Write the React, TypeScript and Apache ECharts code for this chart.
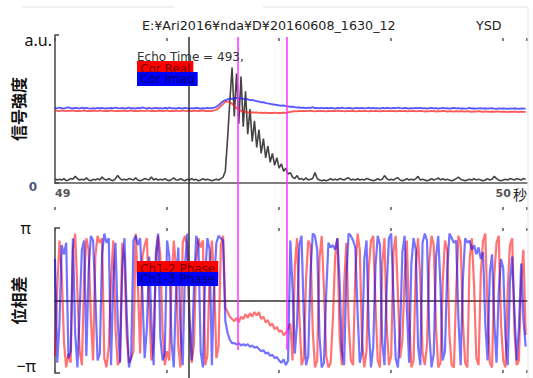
import React, { useEffect, useRef } from "react";
import * as echarts from "echarts";

// ---- axis / time settings ----
const X_MIN = 49;
const X_MAX = 50.053;
const TICK_STEP = 0.25;
const T_START = 49;
const T_STEP = 0.005;

const TITLE = "E:¥Ari2016¥nda¥D¥20160608_1630_12";
const USER = "YSD";
const ECHO_LABEL = "Echo Time = 493,";
const TOP_NAMES = ["Cor Real", "Cor Imag"];
const PHASE_NAMES = ["Ch1-2 Phase", "Ch1-3 Phase"];
const X_TICK_LABELS: Record<string, string> = { "49": "49", "50": "50" };

// cursor (black) and markers (magenta), in seconds
const CURSOR_TIME = 49.299;
const MARKER_TIMES = [49.408, 49.516];
// vertical extent of the cursor overlay (overlay axis units, 0 = bottom of window)
const OVERLAY_MAX = 341;
const MARKER_BOTTOM = 28;

// ---- top panel: signal strength (a.u.) ----
const RED_TOP = [
  0.49, 0.488, 0.486, 0.49, 0.487, 0.485, 0.489, 0.487, 0.49, 0.486,
  0.488, 0.485, 0.487, 0.49, 0.486, 0.488, 0.485, 0.489, 0.487, 0.486,
  0.49, 0.487, 0.485, 0.488, 0.486, 0.49, 0.487, 0.485, 0.488, 0.486,
  0.489, 0.487, 0.485, 0.488, 0.49, 0.486, 0.487, 0.485, 0.489, 0.487,
  0.486, 0.49, 0.487, 0.485, 0.488, 0.486, 0.489, 0.487, 0.485, 0.488,
  0.49, 0.486, 0.487, 0.485, 0.489, 0.487, 0.486, 0.49, 0.487, 0.485,
  0.488, 0.486, 0.489, 0.487, 0.485, 0.488, 0.49, 0.486, 0.487, 0.485,
  0.488, 0.49, 0.495, 0.505, 0.52, 0.535, 0.548, 0.552, 0.545, 0.535,
  0.52, 0.505, 0.495, 0.488, 0.484, 0.48, 0.478, 0.476, 0.478, 0.475,
  0.477, 0.474, 0.476, 0.473, 0.475, 0.472, 0.474, 0.473, 0.475, 0.472,
  0.474, 0.473, 0.476, 0.474, 0.478, 0.48, 0.483, 0.485, 0.484, 0.487,
  0.486, 0.488, 0.485, 0.487, 0.489, 0.486, 0.484, 0.487, 0.485, 0.488,
  0.486, 0.484, 0.487, 0.485, 0.488, 0.486, 0.489, 0.485, 0.487, 0.484,
  0.486, 0.488, 0.485, 0.487, 0.484, 0.486, 0.488, 0.485, 0.487, 0.486,
  0.484, 0.487, 0.485, 0.488, 0.486, 0.484, 0.487, 0.485, 0.486, 0.488,
  0.485, 0.487, 0.484, 0.486, 0.488, 0.485, 0.487, 0.484, 0.486, 0.485,
  0.487, 0.484, 0.486, 0.488, 0.485, 0.483, 0.486, 0.484, 0.487, 0.485,
  0.483, 0.486, 0.484, 0.487, 0.485, 0.483, 0.486, 0.484, 0.482, 0.485,
  0.483, 0.486, 0.484, 0.482, 0.485, 0.483, 0.481, 0.484, 0.482, 0.485,
  0.483, 0.481, 0.484, 0.482, 0.48, 0.483, 0.481, 0.484, 0.482, 0.48,
  0.483, 0.481, 0.479, 0.482, 0.48, 0.483, 0.481, 0.479, 0.482, 0.48, 0.481,
];

const BLUE_TOP = [
  0.508, 0.505, 0.51, 0.506, 0.503, 0.507, 0.512, 0.505, 0.504, 0.508,
  0.506, 0.503, 0.509, 0.505, 0.507, 0.504, 0.502, 0.506, 0.503, 0.508,
  0.505, 0.507, 0.503, 0.506, 0.504, 0.508, 0.505, 0.51, 0.506, 0.504,
  0.507, 0.503, 0.505, 0.509, 0.504, 0.506, 0.503, 0.507, 0.505, 0.511,
  0.506, 0.504, 0.507, 0.503, 0.505, 0.508, 0.504, 0.506, 0.503, 0.507,
  0.505, 0.509, 0.504, 0.506, 0.503, 0.507, 0.505, 0.504, 0.508, 0.505,
  0.503, 0.506, 0.504, 0.507, 0.505, 0.503, 0.506, 0.504, 0.508, 0.505,
  0.506, 0.51, 0.515, 0.525, 0.54, 0.552, 0.56, 0.565, 0.57, 0.568,
  0.572, 0.575, 0.57, 0.574, 0.568, 0.565, 0.566, 0.56, 0.562, 0.556,
  0.553, 0.55, 0.545, 0.547, 0.54, 0.538, 0.535, 0.532, 0.53, 0.527,
  0.525, 0.522, 0.524, 0.52, 0.518, 0.515, 0.516, 0.512, 0.51, 0.511,
  0.508, 0.51, 0.506, 0.509, 0.507, 0.512, 0.506, 0.508, 0.505, 0.507,
  0.504, 0.507, 0.505, 0.508, 0.506, 0.503, 0.507, 0.505, 0.509, 0.506,
  0.504, 0.507, 0.505, 0.503, 0.506, 0.508, 0.505, 0.507, 0.504, 0.506,
  0.509, 0.505, 0.507, 0.504, 0.506, 0.503, 0.507, 0.505, 0.508, 0.506,
  0.504, 0.507, 0.505, 0.51, 0.506, 0.504, 0.507, 0.505, 0.503, 0.506,
  0.504, 0.507, 0.505, 0.508, 0.504, 0.506, 0.503, 0.505, 0.507, 0.504,
  0.506, 0.503, 0.505, 0.508, 0.504, 0.506, 0.503, 0.505, 0.507, 0.504,
  0.506, 0.503, 0.505, 0.502, 0.504, 0.507, 0.503, 0.505, 0.502, 0.504,
  0.506, 0.503, 0.505, 0.502, 0.504, 0.506, 0.503, 0.501, 0.504, 0.502,
  0.505, 0.503, 0.501, 0.504, 0.502, 0.505, 0.503, 0.501, 0.504, 0.502, 0.503,
];

const ECHO_AMP = [
  0.03, 0.02, 0.025, 0.02, 0.03, 0.015, 0.02, 0.03, 0.025, 0.045,
  0.03, 0.02, 0.025, 0.02, 0.035, 0.02, 0.015, 0.025, 0.02, 0.03,
  0.02, 0.04, 0.025, 0.02, 0.03, 0.02, 0.015, 0.03, 0.05, 0.03,
  0.02, 0.025, 0.02, 0.03, 0.025, 0.02, 0.035, 0.02, 0.015, 0.02,
  0.03, 0.025, 0.02, 0.04, 0.02, 0.03, 0.02, 0.025, 0.02, 0.03,
  0.02, 0.015, 0.025, 0.035, 0.02, 0.02, 0.03, 0.02, 0.015, 0.025,
  0.02, 0.03, 0.02, 0.025, 0.015, 0.02, 0.03, 0.02, 0.025, 0.02,
  0.015, 0.02, 0.025, 0.02, 0.03, 0.04, 0.08, 0.3, 0.55, 0.78,
  0.45, 0.74, 0.4, 0.72, 0.38, 0.62, 0.33, 0.5, 0.28, 0.42,
  0.24, 0.36, 0.2, 0.3, 0.17, 0.25, 0.14, 0.2, 0.12, 0.17,
  0.1, 0.13, 0.08, 0.1, 0.06, 0.07, 0.04, 0.03, 0.05, 0.025,
  0.03, 0.02, 0.035, 0.02, 0.025, 0.03, 0.07, 0.03, 0.02, 0.015,
  0.02, 0.015, 0.02, 0.03, 0.02, 0.025, 0.02, 0.03, 0.025, 0.02,
  0.03, 0.035, 0.02, 0.025, 0.02, 0.03, 0.02, 0.025, 0.02, 0.03,
  0.025, 0.02, 0.015, 0.02, 0.03, 0.02, 0.025, 0.05, 0.03, 0.02,
  0.025, 0.02, 0.03, 0.035, 0.02, 0.015, 0.02, 0.03, 0.02, 0.025,
  0.02, 0.03, 0.045, 0.02, 0.025, 0.02, 0.015, 0.02, 0.03, 0.02,
  0.025, 0.035, 0.02, 0.03, 0.02, 0.025, 0.02, 0.015, 0.02, 0.03,
  0.04, 0.025, 0.02, 0.015, 0.02, 0.025, 0.02, 0.03, 0.02, 0.025,
  0.02, 0.015, 0.02, 0.03, 0.02, 0.025, 0.045, 0.03, 0.02, 0.015,
  0.02, 0.025, 0.02, 0.03, 0.025, 0.02, 0.03, 0.025, 0.02, 0.03, 0.025,
];

// ---- bottom panel: phase difference (rad) ----
const RED_PHASE = [
  -2.4, 0.5, 2.6, 1.2, -1.8, -2.9, -2.3, -2.7, 2.2, 2.9,
  0.4, -2.2, -2.8, 1.0, 2.7, 2.2, -0.8, -2.6, 1.9, 2.8,
  2.5, 2.7, -2.5, -2.9, -2.0, 0.9, 2.6, -1.2, -2.8, -2.6,
  2.5, 1.8, -1.6, -2.7, -2.5, -2.2, 2.9, 0.6, -2.3, 1.9,
  2.4, 2.7, -0.2, -2.6, -1.8, 1.6, 2.8, 2.0, -1.3, -2.8,
  -2.2, -2.6, 0.8, 2.6, 1.4, -2.0, -2.9, 2.5, 2.8, 2.4,
  -0.9, -2.7, -1.9, 1.7, 2.7, 2.3, 2.6, -2.8, -2.4, 1.2,
  2.6, 0.9, -2.5, -2.0, 2.4, 2.8, -0.3, -0.5, -0.7, -0.8,
  -0.9, -0.75, -0.95, -0.7, -0.8, -0.6, -0.75, -0.55, -0.7, -0.5,
  -0.65, -0.5, -0.8, -0.7, -0.95, -0.85, -1.1, -1.0, -1.25, -1.15,
  -1.35, -1.3, -1.5, -1.4, -1.2, -1.0, -2.6, 1.5, 2.7, -0.6,
  -2.8, -2.5, 0.9, 2.6, 2.4, -1.3, -2.9, -2.6, 1.8, 2.8,
  0.5, -2.4, -2.9, -2.7, -0.8, 1.9, 2.7, -1.6, -2.8, 0.7,
  2.5, -0.9, -2.6, -2.8, 1.2, 2.9, 2.2, -1.8, -2.9, -2.2,
  1.4, 2.6, 2.8, -0.2, -2.6, -2.9, 1.6, 2.7, -1.1, -2.8,
  -2.4, 2.1, 2.8, 0.3, -2.5, -1.7, 1.0, 2.6, -0.7, -2.9,
  -2.6, 1.5, 2.7, 0.9, -2.3, -2.8, -1.9, 1.7, 2.8, 2.4,
  -1.2, -2.9, -2.7, 0.8, 2.6, 2.2, -1.5, -2.8, -2.9, 0.4,
  2.8, 2.5, -0.9, -2.7, -2.9, 1.8, 2.7, 0.6, -2.5, -2.8,
  1.2, 2.6, 2.9, -0.4, -2.7, -2.9, 1.1, 2.5, 2.8, -1.0,
  -2.6, -2.9, 0.5, 2.4, 2.7, -1.3, -2.8, -2.6, 0.9, 2.2, -1.5,
];

const BLUE_PHASE = [
  1.8, -2.7, -1.0, 2.4, 2.0, 2.5, -2.5, -2.2, 2.7, -1.4,
  -2.9, -0.5, 2.2, 2.6, -2.4, 1.3, 2.8, 2.6, 0.2, -2.6,
  -2.3, 2.0, 2.9, 2.5, 2.7, -2.8, 0.8, 2.5, -0.9, -2.7,
  1.4, 2.7, -0.6, -2.9, -2.4, 2.6, 2.8, 2.4, 2.7, 0.3,
  -2.5, -1.2, 1.9, -0.8, -2.8, 2.1, 2.9, -1.6, -2.6, -2.3,
  2.6, 1.9, -1.8, -2.9, 0.4, 2.3, -1.3, -2.8, 1.5, 2.9,
  -0.7, -2.6, 0.6, 2.8, 2.4, -2.2, -2.9, 1.1, 2.7, 2.2,
  -2.8, 0.7, 2.5, 2.8, 2.7, 2.6, -0.9, -1.4, -1.7, -1.85,
  -1.85, -1.9, -1.85, -1.95, -1.9, -1.95, -1.9, -2.0, -1.95, -2.05,
  -2.0, -2.1, -2.2, -2.15, -2.3, -2.25, -2.4, -2.35, -2.5, -2.45,
  -2.6, -2.7, -2.55, -2.8, -2.6, 2.6, 0.5, -2.3, -1.0, 2.4,
  2.8, -0.6, -2.8, -2.4, 1.2, 2.9, 2.8, 2.2, -1.5, -2.9,
  -2.7, 0.3, 2.5, 2.3, 2.4, 2.2, 2.7, 0.8, -2.2, -2.8,
  1.0, 2.9, 2.8, 2.6, 2.3, -0.5, -2.7, -2.2, 1.8, 2.6,
  -1.2, -2.9, -2.0, 1.5, 2.8, 2.4, -1.8, -2.8, 0.6, 2.7,
  2.9, 0.2, -2.5, -2.9, -1.3, 2.1, 2.8, -0.4, -2.7, 1.6,
  2.7, 2.2, -2.0, -2.8, 2.5, 2.9, 2.6, -1.4, -2.9, -2.3,
  1.9, 2.8, 0.6, -2.6, -2.2, 1.3, 2.9, 2.7, 2.5, 2.6,
  -0.8, -2.8, 0.9, 2.7, 2.5, 2.6, 2.2, 2.4, 2.0, 2.3,
  1.8, 2.1, -1.0, -2.6, 1.2, 2.0, -0.9, -2.7, 0.4, 1.8,
  1.4, -1.6, -2.8, 0.8, 1.9, -0.5, -2.6, -1.2, 1.6, -0.8, -2.0,
];

const SAMPLE_TIMES = RED_PHASE.map((_, i) => +(T_START + i * T_STEP).toFixed(3));
const pair = (vals: number[]) => vals.map((v, i) => [SAMPLE_TIMES[i], v]);

const UI_FONT = '"DejaVu Sans", Verdana, sans-serif';
const JP_FONT = '"Noto Sans CJK JP", "Noto Sans", sans-serif';

function tickAxis(gridIndex: number, position: string, offset: number, inside: boolean) {
  return {
    type: "value",
    gridIndex,
    position,
    offset,
    min: X_MIN,
    max: X_MAX,
    interval: TICK_STEP,
    axisLine: { show: false, onZero: false },
    axisTick: { show: true, inside, length: 3, lineStyle: { color: "#555", width: 1.5 } },
    axisLabel: { show: false },
    splitLine: { show: false },
  };
}

const GRID_BASE = { left: 55, right: 6, containLabel: false, outerBoundsMode: "none" };

export default function App() {
  const ref = useRef<HTMLDivElement>(null);

  useEffect(() => {
    document.body.style.margin = "0";
    if (!ref.current) return;
    const chart = echarts.init(ref.current, undefined, { renderer: "svg" });

    const option: any = {
      animation: false,
      backgroundColor: "#ffffff",
      grid: [
        { ...GRID_BASE, top: 35, height: 148 },
        { ...GRID_BASE, top: 228, height: 145 },
        { ...GRID_BASE, top: 37, height: 341 },
      ],
      xAxis: [
        {
          type: "value",
          gridIndex: 0,
          position: "bottom",
          min: X_MIN,
          max: X_MAX,
          interval: TICK_STEP,
          axisLine: { show: true, lineStyle: { color: "#555", width: 1.5 } },
          axisTick: { show: false },
          splitLine: { show: false },
          axisLabel: {
            show: true,
            margin: 5,
            fontSize: 11,
            fontWeight: "bold",
            color: "#555",
            fontFamily: UI_FONT,
            showMaxLabel: false,
            alignMinLabel: "left",
            formatter: (v: number) => X_TICK_LABELS[String(v)] || "",
          },
          name: "秒",
          nameLocation: "end",
          nameGap: -14,
          nameMoveOverlap: false,
          nameTextStyle: {
            fontSize: 14,
            color: "#222",
            fontFamily: JP_FONT,
            verticalAlign: "top",
            padding: [4, 0, 0, 0],
          },
        },
        tickAxis(0, "top", -3, true),
        {
          type: "value",
          gridIndex: 1,
          position: "bottom",
          min: X_MIN,
          max: X_MAX,
          interval: TICK_STEP,
          axisLine: { show: true, onZero: true, lineStyle: { color: "#333", width: 1.5 } },
          axisTick: { show: false },
          axisLabel: { show: false },
          splitLine: { show: false },
        },
        tickAxis(1, "top", 0, true),
        tickAxis(1, "bottom", 0, true),
        tickAxis(0, "bottom", 24, false),
        {
          type: "value",
          gridIndex: 2,
          min: X_MIN,
          max: X_MAX,
          show: false,
        },
      ],
      yAxis: [
        {
          type: "value",
          gridIndex: 0,
          min: 0,
          max: 1,
          interval: 1,
          axisLine: { show: true, lineStyle: { color: "#444", width: 1.5 } },
          axisTick: { show: true, inside: true, length: 4, lineStyle: { color: "#444", width: 1.5 } },
          splitLine: { show: false },
          axisLabel: {
            margin: 3,
            formatter: (v: number) => (v === 0 ? "{z|0}" : v === 1 ? "{u|a.u.}" : ""),
            rich: {
              z: { fontSize: 12, fontWeight: "bold", color: "#4a5578", fontFamily: UI_FONT, padding: [8, 15, 0, 0] },
              u: { fontSize: 16, color: "#111", fontFamily: '"Noto Sans", sans-serif', padding: [10, 0, 0, 0] },
            },
          },
          name: "信号強度",
          nameLocation: "middle",
          nameRotate: 90,
          nameGap: 29,
          nameMoveOverlap: false,
          nameTextStyle: { fontSize: 16, fontWeight: "bold", color: "#111", fontFamily: JP_FONT },
        },
        {
          type: "value",
          gridIndex: 1,
          min: -Math.PI,
          max: Math.PI,
          interval: Math.PI,
          axisLine: { show: true, lineStyle: { color: "#444", width: 1.5 } },
          axisTick: { show: true, inside: true, length: 5, lineStyle: { color: "#444", width: 1.5 } },
          splitLine: { show: false },
          axisLabel: {
            margin: 3,
            formatter: (v: number) => (v > 1 ? "{p|π}" : v < -1 ? "{m|−π}" : ""),
            rich: {
              p: { fontSize: 16, color: "#111", fontFamily: '"Noto Sans", sans-serif', padding: [0, 21, 0, 0] },
              m: { fontSize: 16, color: "#111", fontFamily: '"Noto Sans", sans-serif', padding: [0, 16, 14, 0] },
            },
          },
          name: "位相差",
          nameLocation: "middle",
          nameRotate: 90,
          nameGap: 29,
          nameMoveOverlap: false,
          nameTextStyle: { fontSize: 16, fontWeight: "bold", color: "#111", fontFamily: JP_FONT },
        },
        { type: "value", gridIndex: 2, min: 0, max: OVERLAY_MAX, show: false },
      ],
      series: [
        {
          name: "Echo",
          type: "line",
          xAxisIndex: 0,
          yAxisIndex: 0,
          data: pair(ECHO_AMP),
          symbol: "none",
          lineStyle: { color: "#444", width: 1.6 },
        },
        {
          name: TOP_NAMES[0],
          type: "line",
          xAxisIndex: 0,
          yAxisIndex: 0,
          data: pair(RED_TOP),
          symbol: "none",
          lineStyle: { color: "rgba(255,30,30,0.75)", width: 1.8 },
        },
        {
          name: TOP_NAMES[1],
          type: "line",
          xAxisIndex: 0,
          yAxisIndex: 0,
          data: pair(BLUE_TOP),
          symbol: "none",
          lineStyle: { color: "rgba(30,30,255,0.75)", width: 1.8 },
        },
        {
          name: PHASE_NAMES[0],
          type: "line",
          xAxisIndex: 2,
          yAxisIndex: 1,
          data: pair(RED_PHASE),
          symbol: "none",
          lineStyle: { color: "rgba(255,0,0,0.55)", width: 2.2 },
        },
        {
          name: PHASE_NAMES[1],
          type: "line",
          xAxisIndex: 2,
          yAxisIndex: 1,
          data: pair(BLUE_PHASE),
          symbol: "none",
          lineStyle: { color: "rgba(0,0,255,0.55)", width: 2.2 },
        },
        {
          name: "cursors",
          type: "line",
          xAxisIndex: 6,
          yAxisIndex: 2,
          data: [[CURSOR_TIME, 0]],
          symbol: "none",
          lineStyle: { width: 0, opacity: 0 },
          markLine: {
            silent: true,
            symbol: "none",
            label: { show: false },
            animation: false,
            data: [
              [
                { coord: [CURSOR_TIME, OVERLAY_MAX], lineStyle: { color: "#333", width: 1.5, type: "solid" } },
                { coord: [CURSOR_TIME, 0] },
              ],
              ...MARKER_TIMES.map((t) => [
                { coord: [t, OVERLAY_MAX], lineStyle: { color: "#ff33ff", width: 1.5, type: "solid" } },
                { coord: [t, MARKER_BOTTOM] },
              ]),
            ],
          },
        },
      ],
      graphic: [
        { type: "line", z: 1, shape: { x1: 22, y1: 7, x2: 174, y2: 7 }, style: { stroke: "#e2e2e2", lineWidth: 1 } },
        { type: "line", z: 1, shape: { x1: 263, y1: 7, x2: 528, y2: 7 }, style: { stroke: "#e2e2e2", lineWidth: 1 } },
        { type: "line", z: 1, shape: { x1: 528, y1: 7, x2: 528, y2: 378 }, style: { stroke: "#e2e2e2", lineWidth: 1 } },
        { type: "text", z: 100, left: 142, top: 19, style: { text: TITLE, font: `12.7px ${UI_FONT}`, fill: "#222" } },
        { type: "text", z: 100, left: 476, top: 19, style: { text: USER, font: `12.7px ${UI_FONT}`, fill: "#222" } },
        {
          type: "text", z: 100, left: 137, top: 61,
          style: { text: TOP_NAMES[0], font: `12px ${UI_FONT}`, fill: "#700000", backgroundColor: "#ff0000", padding: [2, 3, 2, 3] },
        },
        {
          type: "text", z: 101, left: 137, top: 72,
          style: { text: TOP_NAMES[1], font: `12px ${UI_FONT}`, fill: "#00006a", backgroundColor: "#0000ff", padding: [1, 3, 1, 3] },
        },
        { type: "text", z: 102, left: 137, top: 51, style: { text: ECHO_LABEL, font: `12px ${UI_FONT}`, fill: "#333" } },
        {
          type: "text", z: 100, left: 137, top: 261,
          style: { text: PHASE_NAMES[0], font: `12px ${UI_FONT}`, fill: "#700000", backgroundColor: "#ff0000", padding: [2, 3, 2, 3] },
        },
        {
          type: "text", z: 101, left: 137, top: 272,
          style: { text: PHASE_NAMES[1], font: `12px ${UI_FONT}`, fill: "#00006a", backgroundColor: "#0000ff", padding: [1, 3, 1, 3] },
        },
      ],
    };

    chart.setOption(option);
    return () => chart.dispose();
  }, []);

  return <div ref={ref} style={{ width: 533, height: 378 }} />;
}
